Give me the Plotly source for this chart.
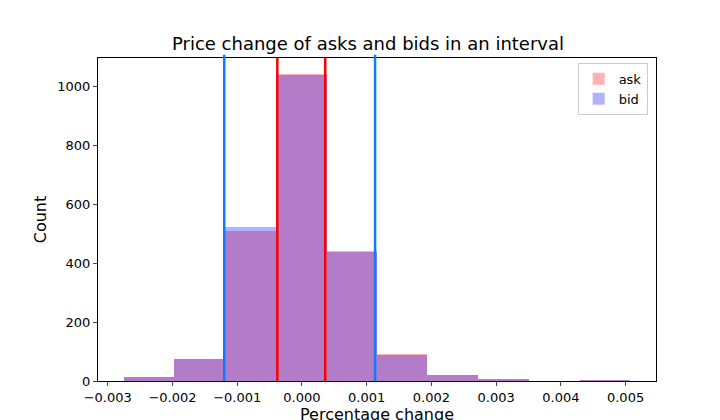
import plotly.graph_objects as go

edges = [-0.00275, -0.00197, -0.00119, -0.00040, 0.00038, 0.00116, 0.00194, 0.00272, 0.00351, 0.00429, 0.00507]
ask_counts = [12, 75, 509, 1041, 441, 90, 20, 8, 0, 3]
bid_counts = [12, 75, 522, 1037, 437, 88, 19, 8, 0, 3]
ask_lines = [-0.00038, 0.00036]
bid_lines = [-0.00120, 0.00113]

centers = [(edges[i] + edges[i+1]) / 2 for i in range(len(edges) - 1)]
widths = [edges[i+1] - edges[i] for i in range(len(edges) - 1)]

fig = go.Figure()
fig.add_bar(x=centers, y=ask_counts, width=widths, name="ask",
            marker=dict(color="rgba(255,0,0,0.3)", line=dict(width=0)))
fig.add_bar(x=centers, y=bid_counts, width=widths, name="bid",
            marker=dict(color="rgba(0,0,255,0.3)", line=dict(width=0)))

for x in bid_lines:
    fig.add_shape(type="line", x0=x, x1=x, y0=0, y1=1.01, xref="x", yref="paper",
                  line=dict(color="#0a7cff", width=2.5))
for x in ask_lines:
    fig.add_shape(type="line", x0=x, x1=x, y0=0, y1=1, xref="x", yref="paper",
                  line=dict(color="red", width=2.5))

fig.update_layout(
    width=720, height=420, barmode="overlay", bargap=0,
    paper_bgcolor="white", plot_bgcolor="white",
    margin=dict(l=90, r=72, t=50, b=47, autoexpand=False),
    font=dict(family="DejaVu Sans", size=13, color="black"),
    title=dict(text="Price change of asks and bids in an interval", x=0.5, xanchor="center",
               y=0.915, yanchor="middle", font=dict(size=18)),
    legend=dict(x=0.985, y=0.985, xanchor="right", yanchor="top",
                bordercolor="#cccccc", borderwidth=1, font=dict(size=13)),
    xaxis=dict(range=[-0.00315, 0.00547], tickvals=[-0.003, -0.002, -0.001, 0, 0.001, 0.002, 0.003, 0.004, 0.005],
               ticktext=["−0.003", "−0.002", "−0.001", "0.000", "0.001", "0.002", "0.003", "0.004", "0.005"],
               showline=True, linecolor="black", mirror=True, ticks="outside", ticklen=4,
               showgrid=False, zeroline=False, automargin=False,
               title=dict(text="Percentage change", standoff=2)),
    yaxis=dict(range=[0, 1095], tickvals=[0, 200, 400, 600, 800, 1000],
               showline=True, linecolor="black", mirror=True, ticks="outside", ticklen=4,
               showgrid=False, zeroline=False, automargin=False,
               title=dict(text="Count", standoff=6)),
)
fig.write_html("out.html")
